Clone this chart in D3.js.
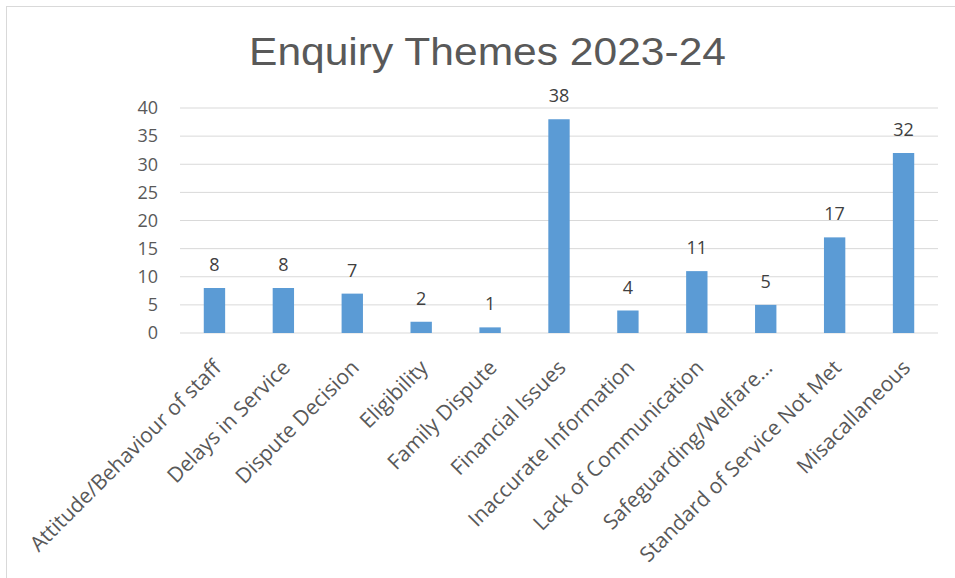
<!DOCTYPE html>
<html>
<head>
<meta charset="utf-8">
<script src="https://cdn.jsdelivr.net/npm/d3@7"></script>
<style>
  body { margin: 0; background: #fff; }
  svg { display: block; }
</style>
</head>
<body>
<div id="chart"></div>
<script>
const categories = [
    "Attitude/Behaviour of staff", "Delays in Service", "Dispute Decision",
    "Eligibility", "Family Dispute", "Financial Issues", "Inaccurate Information",
    "Lack of Communication", "Safeguarding/Welfare...", "Standard of Service Not Met",
    "Misacallaneous"
];
const values = [8, 8, 7, 2, 1, 38, 4, 11, 5, 17, 32];
const yTicks = [0, 5, 10, 15, 20, 25, 30, 35, 40];

const W = 955, H = 578;
const MARGIN = { left: 180, right: 17, top: 108, bottom: 245 };
const width = W - MARGIN.left - MARGIN.right;
const height = H - MARGIN.top - MARGIN.bottom;
const FONT = "'Open Sans', 'Noto Sans', sans-serif";
const TEXT = "#595959";

const svg = d3.select("#chart")
    .append("svg")
    .attr("width", W)
    .attr("height", H);

// chart frame
svg.append("rect")
    .attr("x", 6.5).attr("y", 6.5)
    .attr("width", W + 20).attr("height", H + 20)
    .attr("fill", "none")
    .attr("stroke", "#d9d9d9");

svg.append("text")
    .attr("x", 249)
    .attr("y", 65)
    .attr("textLength", 477)
    .attr("lengthAdjust", "spacingAndGlyphs")
    .style("font-family", "'Liberation Sans', Arial, sans-serif")
    .style("font-size", "39px")
    .style("fill", TEXT)
    .text("Enquiry Themes 2023-24");

const g = svg.append("g")
    .attr("transform", `translate(${MARGIN.left}, ${MARGIN.top})`);

const x = d3.scaleBand()
    .domain(categories)
    .range([0, width])
    .paddingInner(0.69)
    .paddingOuter(0.345);

const y = d3.scaleLinear()
    .domain([0, 40])
    .range([height, 0]);

// gridlines
g.selectAll("line.grid")
    .data(yTicks)
    .join("line")
    .attr("class", "grid")
    .attr("x1", 0).attr("x2", width)
    .attr("y1", d => y(d)).attr("y2", d => y(d))
    .attr("stroke", "#d9d9d9")
    .attr("stroke-width", 1);

// y labels
const yAxis = g.append("g")
    .call(d3.axisLeft(y).tickValues(yTicks).tickSize(0).tickPadding(22));
yAxis.select(".domain").remove();
yAxis.selectAll("text")
    .style("font-family", FONT)
    .style("font-size", "18px")
    .style("fill", TEXT);

g.selectAll("rect.bar")
    .data(values)
    .join("rect")
    .attr("class", "bar")
    .attr("x", (d, i) => x(categories[i]))
    .attr("width", x.bandwidth())
    .attr("y", d => y(d))
    .attr("height", d => height - y(d))
    .attr("fill", "#5b9bd5");

g.selectAll("text.val")
    .data(values)
    .join("text")
    .attr("class", "val")
    .attr("x", (d, i) => x(categories[i]) + x.bandwidth() / 2)
    .attr("y", d => y(d) - 17)
    .attr("text-anchor", "middle")
    .style("font-family", FONT)
    .style("font-size", "18px")
    .style("fill", "#404040")
    .text(d => d);

// x labels
const xAxis = g.append("g")
    .attr("transform", `translate(0, ${height})`)
    .call(d3.axisBottom(x).tickSize(0).tickPadding(0));
xAxis.select(".domain").remove();
xAxis.selectAll("text")
    .attr("text-anchor", "end")
    .attr("dy", null)
    .attr("y", 0)
    .attr("transform", "translate(8, 36) rotate(-45)")
    .style("font-family", FONT)
    .style("font-size", "21px")
    .style("fill", TEXT);
</script>
</body>
</html>
